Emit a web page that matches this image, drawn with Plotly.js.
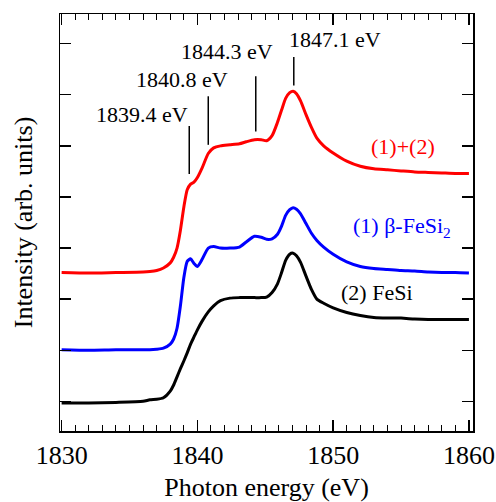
<!DOCTYPE html>
<html>
<head>
<meta charset="utf-8">
<script src="https://cdn.plot.ly/plotly-3.0.1.min.js"></script>
<style>html,body{margin:0;padding:0;background:#fff;}#chart{width:496px;height:502px;}</style>
</head>
<body>
<div id="chart"></div>
<script>
// Photon energy grid (eV)
const energy = [1830, 1832, 1834, 1836, 1836.5, 1837, 1837.5, 1838, 1838.25, 1838.5, 1838.75, 1839, 1839.25, 1839.5, 1839.75, 1840, 1840.35, 1840.8, 1841.2, 1841.7, 1842.4, 1843.1, 1843.6, 1844.2, 1844.7, 1845.1, 1845.5, 1845.9, 1846.2, 1846.5, 1846.8, 1847.05, 1847.3, 1847.6, 1848, 1848.4, 1848.8, 1849.3, 1850, 1851, 1852, 1853, 1854, 1855, 1856, 1857, 1858, 1859, 1860];

// (2) FeSi
const fesi = [-0.03, -0.03, -0.02, 0.0, 0.03, 0.04, 0.07, 0.2, 0.32, 0.48, 0.64, 0.79, 0.95, 1.12, 1.26, 1.40, 1.57, 1.75, 1.87, 1.97, 2.02, 2.03, 2.03, 2.03, 2.03, 2.04, 2.13, 2.30, 2.52, 2.76, 2.88, 2.90, 2.85, 2.72, 2.45, 2.19, 2.00, 1.92, 1.83, 1.74, 1.68, 1.64, 1.63, 1.63, 1.61, 1.60, 1.60, 1.60, 1.60];

// (1) beta-FeSi2
const betaFeSi2 = [1.01, 1.00, 1.01, 1.01, 1.01, 1.02, 1.04, 1.12, 1.22, 1.43, 1.87, 2.42, 2.74, 2.79, 2.70, 2.64, 2.78, 3.00, 3.03, 3.00, 3.00, 3.02, 3.12, 3.23, 3.21, 3.17, 3.18, 3.27, 3.43, 3.64, 3.75, 3.79, 3.76, 3.67, 3.48, 3.29, 3.15, 3.02, 2.88, 2.73, 2.64, 2.60, 2.58, 2.56, 2.55, 2.53, 2.52, 2.52, 2.51];

// (1)+(2)
const sum12 = [2.52, 2.51, 2.52, 2.53, 2.54, 2.56, 2.61, 2.71, 2.82, 3.00, 3.35, 3.80, 4.14, 4.25, 4.29, 4.38, 4.57, 4.85, 4.96, 5.00, 5.02, 5.04, 5.08, 5.12, 5.12, 5.10, 5.20, 5.46, 5.70, 5.93, 6.04, 6.07, 6.02, 5.88, 5.61, 5.36, 5.15, 5.00, 4.86, 4.70, 4.60, 4.55, 4.53, 4.51, 4.49, 4.48, 4.47, 4.46, 4.46];

// Marked features (eV)
const peakEnergies = [1839.4, 1840.8, 1844.3, 1847.1];
const peakLabels = peakEnergies.map(e => e.toFixed(1) + ' eV');

// Series labels
const seriesNames = ['(1)+(2)', '(1) β-FeSi<sub>2</sub>', '(2) FeSi'];
const seriesColors = ['#ff0000', '#0000ff', '#000000'];

// layout positions (not data)
const markerSpans = [[4.45, 5.39], [5.02, 5.97], [5.28, 6.36], [6.18, 6.74]];
const labelPos = [[1835.91, 5.62], [1838.85, 6.30], [1842.17, 6.85], [1850.11, 7.08]];
const namePos = [[1855.17, 4.98], [1855.1, 3.42], [1853.2, 2.13]];

const FONT = "'Liberation Serif', 'Times New Roman', Times, serif";

const seriesData = [sum12, betaFeSi2, fesi];
const traces = seriesData.map((ys, i) => ({
  x: energy, y: ys, type: 'scatter', mode: 'lines',
  line: {color: seriesColors[i], width: 3, shape: 'spline', smoothing: 0.6},
  hoverinfo: 'skip', showlegend: false
}));

const shapes = peakEnergies.map((e, i) => ({
  type: 'line', xref: 'x', yref: 'y',
  x0: e, x1: e, y0: markerSpans[i][0], y1: markerSpans[i][1],
  line: {color: '#000', width: 1.5}
}));

const annotations = peakLabels.map((t, i) => ({
  text: t, x: labelPos[i][0], y: labelPos[i][1], xref: 'x', yref: 'y',
  xanchor: 'center', yanchor: 'middle', showarrow: false,
  font: {family: FONT, size: 22, color: '#000'}
})).concat(seriesNames.map((t, i) => ({
  text: t, x: namePos[i][0], y: namePos[i][1], xref: 'x', yref: 'y',
  xanchor: 'center', yanchor: 'middle', showarrow: false,
  font: {family: FONT, size: 22, color: seriesColors[i]}
})));

const layout = {
  width: 496, height: 502,
  margin: {l: 60, r: 23, t: 14, b: 71, pad: 0},
  paper_bgcolor: '#fff', plot_bgcolor: '#fff',
  font: {family: FONT, size: 26, color: '#000'},
  xaxis: {
    range: [1829.88, 1860.3], tickvals: [1830, 1840, 1850, 1860],
    ticks: 'inside', ticklen: 11, tickwidth: 1.5, tickcolor: '#000',
    minor: {dtick: 1, ticks: 'inside', ticklen: 6, tickwidth: 1, tickcolor: '#000'},
    showline: true, linecolor: '#000', linewidth: 1.5, mirror: 'ticks',
    showgrid: false, zeroline: false,
    tickfont: {family: FONT, size: 26, color: '#000'},
    title: {text: 'Photon energy (eV)', font: {family: FONT, size: 26, color: '#000'}, standoff: 12}
  },
  yaxis: {
    range: [-0.58, 7.58], tickvals: [0, 1, 2, 3, 4, 5, 6, 7], showticklabels: false,
    ticks: 'inside', ticklen: 11, tickwidth: 1.5, tickcolor: '#000',
    showline: true, linecolor: '#000', linewidth: 1.5, mirror: 'ticks',
    showgrid: false, zeroline: false,
    title: {text: 'Intensity (arb. units)', font: {family: FONT, size: 26, color: '#000'}, standoff: 18}
  },
  shapes: shapes,
  annotations: annotations
};

Plotly.newPlot('chart', traces, layout, {displayModeBar: false, staticPlot: true});
</script>
</body>
</html>
